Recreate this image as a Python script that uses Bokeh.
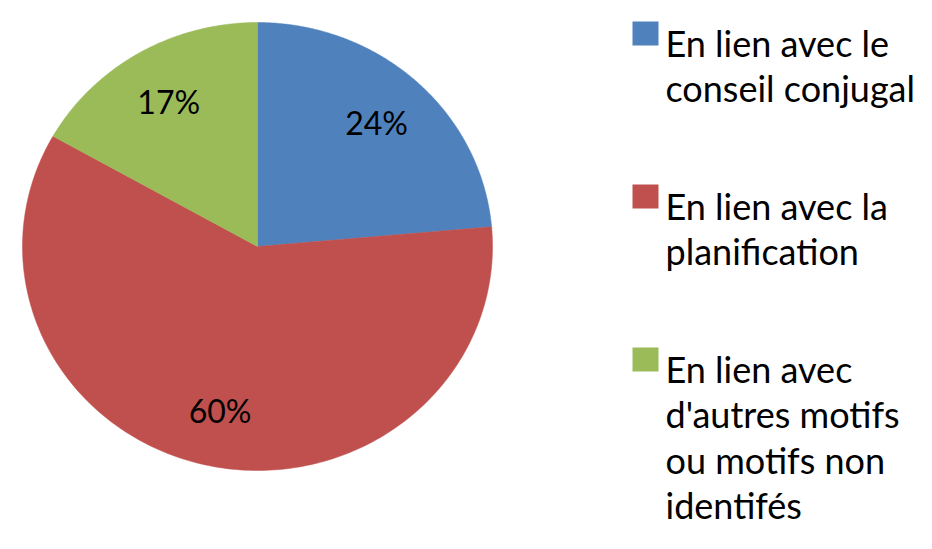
import numpy as np
from bokeh.plotting import figure
from bokeh.layouts import row
from bokeh.models import Range1d, ColumnDataSource
from bokeh.core.properties import value
from bokeh.embed import file_html
from bokeh.resources import INLINE

# ---- data ----
categories = [
    "En lien avec le\nconseil conjugal",
    "En lien avec la\nplanification",
    "En lien avec\nd'autres motifs\nou motifs non\nidentifés",
]
shares = [23.6, 59.6, 16.8]
colors = ["#4F81BD", "#C0504D", "#9BBB59"]

FONT = "Lato"

# ---- pie figure ----
W1, H = 520, 549
cx_px, cy_px = 257, 246          # pie centre (pixels from left/top)
rx_px, ry_px = 235, 224          # horizontal / vertical radii in pixels

p1 = figure(width=W1, height=H, toolbar_location=None, output_backend="svg",
            x_range=Range1d(-cx_px / rx_px, (W1 - cx_px) / rx_px),
            y_range=Range1d(-(H - cy_px) / ry_px, cy_px / ry_px),
            x_axis_location=None, y_axis_location=None, min_border=0)
p1.grid.visible = False
p1.outline_line_color = None
p1.background_fill_color = "white"

total = sum(shares)
fr = np.array(shares) / total
cum = np.concatenate([[0], np.cumsum(fr)])
xs, ys, lx, ly, ltxt = [], [], [], [], []
for i in range(len(shares)):
    t = np.pi / 2 - 2 * np.pi * np.linspace(cum[i], cum[i + 1], 200)
    xs.append(np.concatenate([[0], np.cos(t)]))
    ys.append(np.concatenate([[0], np.sin(t)]))
    m = np.pi / 2 - 2 * np.pi * (cum[i] + cum[i + 1]) / 2
    lx.append(0.75 * np.cos(m))
    ly.append(0.75 * np.sin(m))
    ltxt.append(f"{round(fr[i] * 100)}%")

p1.patches(xs=xs, ys=ys, fill_color=colors, line_color=colors, line_width=0.5)
p1.text(x=lx, y=ly, text=ltxt, text_font=value(FONT), text_font_size="32px",
        text_align="center", text_baseline="middle", text_color="black")

# ---- legend figure ----
W2 = 932 - W1
p2 = figure(width=W2, height=H, toolbar_location=None, output_backend="svg",
            x_range=Range1d(W1, 932), y_range=Range1d(H, 0),
            x_axis_location=None, y_axis_location=None, min_border=0)
p2.grid.visible = False
p2.outline_line_color = None

line_h, gap, first = 45.5, 72, 42
tx, ty, tt, sy = [], [], [], []
base = first
for cat in categories:
    lines = cat.split("\n")
    sy.append(base - 9)
    for k, ln in enumerate(lines):
        tx.append(665)
        ty.append(base + k * line_h)
        tt.append(ln)
    base += len(lines) * line_h + gap

p2.rect(x=[645] * len(categories), y=sy, width=26, height=24,
        fill_color=colors, line_color=None)
p2.text(x=tx, y=ty, text=tt, text_font=value(FONT), text_font_size="36px",
        text_align="left", text_baseline="alphabetic", text_color="black")

layout = row(p1, p2)
open("out.html", "w").write(file_html(layout, INLINE))
